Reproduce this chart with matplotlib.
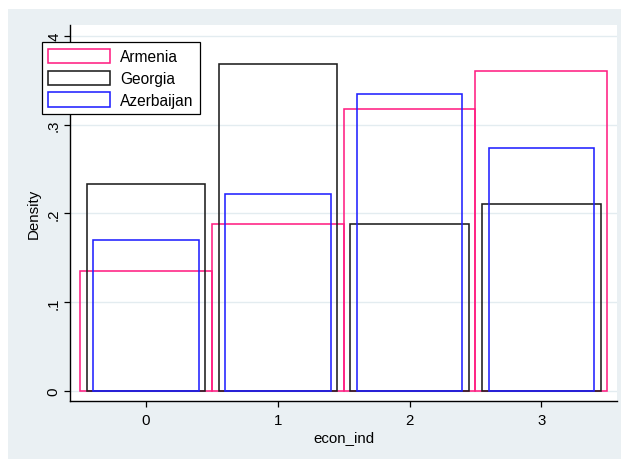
import matplotlib.pyplot as plt
from matplotlib.patches import Rectangle

plt.rcParams['font.family'] = ['Liberation Sans', 'DejaVu Sans']
plt.rcParams['font.size'] = 10.8

# data
categories = [0, 1, 2, 3]
countries = ['Armenia', 'Georgia', 'Azerbaijan']
armenia = [0.135, 0.188, 0.318, 0.360]
georgia = [0.233, 0.368, 0.188, 0.211]
azerbaijan = [0.170, 0.222, 0.334, 0.274]
yticks = [0, 0.1, 0.2, 0.3, 0.4]
ytick_labels = ['0', '.1', '.2', '.3', '.4']

series = [armenia, georgia, azerbaijan]
colors = ['#ff1f82', '#1e1e1e', '#2020ff']
widths = [1.0, 0.9, 0.8]

W, H = 621, 460
fig = plt.figure(figsize=(W / 100, H / 100), dpi=100, facecolor='white')
bg = Rectangle((8 / W, 0), 1 - 8 / W, 1 - 10 / H,
               transform=fig.transFigure, facecolor='#eaf0f3',
               edgecolor='none', zorder=-10)
fig.patches.append(bg)

ax = fig.add_axes([70 / W, (H - 402) / H, (617 - 70) / W, (402 - 26) / H])
ax.set_zorder(1)
ax.set_facecolor('white')

for vals, c, w in zip(series, colors, widths):
    ax.bar(categories, vals, width=w, facecolor='none', edgecolor=c,
           linewidth=1.15, zorder=3)

ax.set_xlim(-0.577, 3.574)
ax.set_ylim(-0.011, 0.412)
ax.set_xticks(categories)
ax.set_yticks(yticks)
ax.set_yticklabels(ytick_labels, rotation=90, va='center')
ax.grid(axis='y', color='#e3ecf0', linewidth=1.0, zorder=0)
ax.set_axisbelow(True)

for s in ['top', 'right']:
    ax.spines[s].set_visible(False)
for s in ['left', 'bottom']:
    ax.spines[s].set_color('black')
    ax.spines[s].set_linewidth(1.0)
ax.tick_params(direction='out', length=4, width=0.9, colors='black')
ax.tick_params(axis='x', pad=5)
ax.tick_params(axis='y', pad=3)

ax.set_xlabel('econ_ind', labelpad=2)
ax.set_ylabel('Density', labelpad=4)

handles = [Rectangle((0, 0), 1, 1, facecolor='none', edgecolor=c, linewidth=1.15)
           for c in colors]
leg = ax.legend(handles, countries, loc='upper left',
                bbox_to_anchor=(41.7 / W, 1 - 43.3 / H),
                bbox_transform=fig.transFigure,
                frameon=True, fancybox=False, shadow=False, fontsize=11.2,
                handlelength=4.0, handleheight=1.05, handletextpad=0.6,
                labelspacing=0.4, borderpad=0.42, borderaxespad=0)
leg.get_frame().set_edgecolor('black')
leg.get_frame().set_linewidth(0.9)
leg.get_frame().set_facecolor('white')
leg.get_frame().set_alpha(1)

fig.savefig('out.png', dpi=100, facecolor=fig.get_facecolor())
